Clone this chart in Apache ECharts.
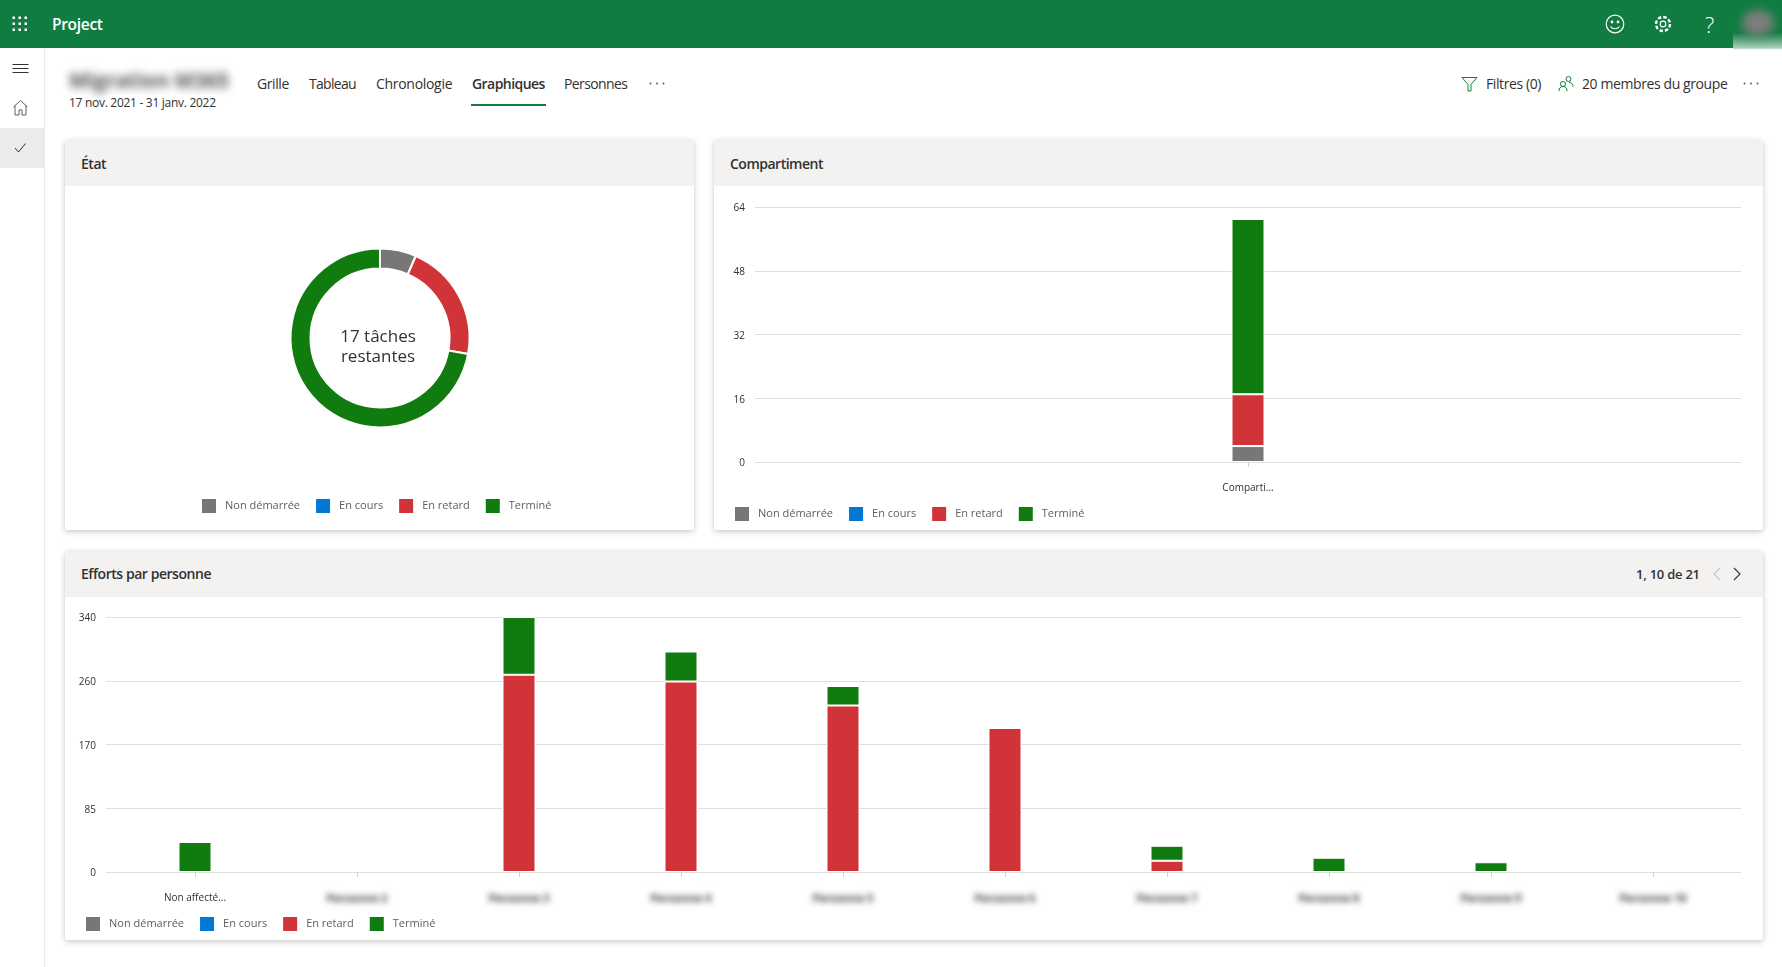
<!DOCTYPE html>
<html lang="fr">
<head>
<meta charset="utf-8">
<title>Graphiques</title>
<script src="https://cdn.jsdelivr.net/npm/echarts@6/dist/echarts.min.js"></script>
<style>
html,body{margin:0;padding:0;width:1782px;height:967px;background:#fff;overflow:hidden;font-family:"Open Sans",sans-serif;color:#323130}
.a{position:absolute;white-space:nowrap;line-height:1}
#top{position:absolute;left:0;top:0;width:1782px;height:48px;background:#107c41}
#side{position:absolute;left:0;top:48px;width:44px;height:919px;border-right:1px solid #edebe9}
#sel{position:absolute;left:0;top:128px;width:44px;height:40px;background:#edebe9}
.card{position:absolute;background:#fff;border-radius:2px;box-shadow:0 2px 6px rgba(0,0,0,.2),0 0 2px rgba(0,0,0,.08)}
.hd{position:absolute;left:0;top:0;right:0;height:46px;background:#f3f2f1;border-radius:2px 2px 0 0}
.ttl{position:absolute;left:16px;top:16px;font-size:14px;font-weight:600;line-height:16px;letter-spacing:-.45px;color:#323130}
.chart{position:absolute;left:0;top:46px}
.tab{font-size:14px;top:76px;letter-spacing:-.4px;line-height:16px}
svg{position:absolute;overflow:visible}
</style>
</head>
<body>
<div id="top"></div>
<div id="side"></div><div id="sel"></div>
<svg style="left:0;top:0" width="60" height="48" fill="#fff"><g id="dots"></g></svg>
<div class="a" style="left:52px;top:15px;font-size:15.500px;font-weight:600;color:#fff;line-height:18px;letter-spacing:-.3px">Project</div>

<svg style="left:0;top:0" width="44" height="170" fill="none" stroke="#323130" stroke-width="1">
<path d="M12.500 64.500h16M12.500 68.500h16M12.500 72.500h16"/>
<path d="M13.500 107l7-6.500 7 6.500M15 105.500v9.500h4v-5h3v5h4v-9.500" stroke="#605e5c"/>
<path d="M15 148l3.500 4 7-8.500" stroke="#323130"/>
</svg>

<svg style="left:1600px;top:9px" width="130" height="32" fill="none" stroke="#fff" stroke-width="1.200">
<circle cx="15" cy="15" r="8.800"/><circle cx="12" cy="13" r=".8" fill="#fff"/><circle cx="18" cy="13" r=".8" fill="#fff"/><path d="M10.500 17.500c2 3 7 3 9 0"/>
<circle cx="63" cy="15" r="2.800"/><circle cx="63" cy="15" r="7" stroke-dasharray="3.500 2" stroke-width="2.400"/>
</svg>
<div class="a" style="left:1705px;top:12px;font-size:22px;color:#fff;line-height:24px;font-weight:300">?</div>
<div class="a" style="left:1733px;top:6px;width:49px;height:44px;background:linear-gradient(180deg,#107c41 0,#107c41 60%,#a9cdb8 95%,#fff 100%)"></div>
<div class="a" style="left:1742px;top:10px;width:32px;height:26px;border-radius:50%;background:#7d7d7d;filter:blur(5px)"></div>

<div class="a" style="left:69px;top:68px;font-size:20.500px;font-weight:700;line-height:24px;color:#555;filter:blur(4px)">Migration M365</div>
<div class="a" style="left:69px;top:96px;font-size:12px;line-height:14px;letter-spacing:-.29px;color:#323130">17 nov. 2021 - 31 janv. 2022</div>

<div class="a tab" style="left:257px">Grille</div>
<div class="a tab" style="left:309px;letter-spacing:-.7px">Tableau</div>
<div class="a tab" style="left:376px;letter-spacing:-.3px">Chronologie</div>
<div class="a tab" style="left:472px;font-weight:600;letter-spacing:-.55px">Graphiques</div>
<div class="a tab" style="left:564px;letter-spacing:-.6px">Personnes</div>
<svg style="left:649px;top:82px" width="18" height="4" fill="#605e5c"><circle cx="1.500" cy="1.500" r="1"/><circle cx="8" cy="1.500" r="1"/><circle cx="14.500" cy="1.500" r="1"/></svg>
<div class="a" style="left:471px;top:104px;width:75px;height:2px;background:#107c41"></div>

<svg style="left:1461px;top:76px" width="18" height="17" fill="none" stroke="#107c41" stroke-width="1"><path d="M1 1.500h15l-6 7v6.500h-3v-6.500z"/></svg>
<div class="a tab" style="left:1486px">Filtres (0)</div>
<svg style="left:1558px;top:75px" width="16" height="17" fill="none" stroke="#107c41" stroke-width="1"><circle cx="10.500" cy="4" r="2.500"/><circle cx="5" cy="9" r="2.500"/><path d="M1 16c0-3 1.500-4.500 4-4.500s4 1.500 4 4.500M11 7.500c2.500 0 4 1.500 4 4"/></svg>
<div class="a tab" style="left:1582px">20 membres du groupe</div>
<svg style="left:1743px;top:82px" width="18" height="4" fill="#605e5c"><circle cx="1.500" cy="1.500" r="1"/><circle cx="8" cy="1.500" r="1"/><circle cx="14.500" cy="1.500" r="1"/></svg>

<div class="card" style="left:65px;top:140px;width:629px;height:390px">
  <div class="hd"></div><div class="ttl">État</div>
  <div class="chart" id="c1" style="width:629px;height:344px"></div>
</div>
<div class="card" style="left:714px;top:140px;width:1049px;height:390px">
  <div class="hd"></div><div class="ttl" style="letter-spacing:-.5px">Compartiment</div>
  <div class="chart" id="c2" style="width:1049px;height:344px"></div>
</div>
<div class="card" style="left:65px;top:551px;width:1698px;height:389px">
  <div class="hd"></div><div class="ttl" style="top:15px">Efforts par personne</div>
  <div class="a" style="left:1571px;top:15px;font-size:13px;line-height:16px;font-weight:600;letter-spacing:-.24px">1, 10 de 21</div>
  <svg style="left:1646px;top:16px" width="40" height="14" fill="none" stroke-width="1.100"><path d="M9 1L3 7l6 6" stroke="#c8c6c4"/><path d="M23 1l6 6-6 6" stroke="#323130"/></svg>
  <div class="chart" id="c3" style="width:1698px;height:343px"></div>
  <div class="a" id="veil" style="left:205px;top:333px;width:1485px;height:26px;backdrop-filter:blur(3px);-webkit-backdrop-filter:blur(3px)"></div>
</div>

<script>
const FONT = '"Open Sans",sans-serif';
const statusNames = ['Non démarrée', 'En cours', 'En retard', 'Terminé'];
const statusColors = ['#797775', '#0078d4', '#d13438', '#107c10'];

const stateValues = [4, 0, 13, 44];
const stateCaption = '17 tâches\nrestantes';

const bucketCategories = ['Comparti...'];
const bucketNotStarted = [4];
const bucketInProgress = [0];
const bucketLate = [13];
const bucketDone = [44];
const bucketTicks = [0, 16, 32, 48, 64];

const effortCategories = ['Non affecté...', 'Personne 2', 'Personne 3', 'Personne 4', 'Personne 5',
  'Personne 6', 'Personne 7', 'Personne 8', 'Personne 9', 'Personne 10'];
const effortNotStarted = [0, 0, 0, 0, 0, 0, 0, 0, 0, 0];
const effortInProgress = [0, 0, 0, 0, 0, 0, 0, 0, 0, 0];
const effortLate = [0, 0, 263, 254, 222, 192, 15, 0, 0, 0];
const effortDone = [40, 0, 77, 40, 26, 0, 20, 19, 13, 0];
const effortTicks = [0, 85, 170, 260, 340];

// waffle icon dots in the app bar
const dg = document.getElementById('dots');
[0, 1, 2].forEach(r => [0, 1, 2].forEach(c => {
  dg.innerHTML += `<rect x="${12.500 + c * 6}" y="${16.500 + r * 6}" width="2.500" height="2.500"/>`;
}));

const legend = (left, top) => ({
  left, top, padding: 0, icon: 'rect', itemWidth: 14, itemHeight: 14, itemGap: 16, selectedMode: false,
  data: statusNames,
  itemStyle: { borderWidth: 0 },
  textStyle: { fontFamily: FONT, fontSize: 11, color: '#605e5c', padding: [0, 0, 0, 4] }
});
const barSeries = (values, xi, yi) => values.map((v, i) => ({
  name: statusNames[i], type: 'bar', stack: 's', barWidth: 33, xAxisIndex: xi, yAxisIndex: yi,
  data: v.map(x => x || null), silent: true, animation: false,
  itemStyle: { color: statusColors[i], borderColor: '#fff', borderWidth: 1 }
}));
const valueLabels = {
  fontFamily: FONT, fontSize: 10, color: '#323130', margin: 10,
  rich: { t: { fontFamily: FONT, fontSize: 10, color: '#323130', padding: [3, 0, 0, 0] } }
};
const gridLine = { show: true, lineStyle: { color: '#e1dfdd', width: 1 } };
const catAxis = (data, gridIndex, formatter) => ({
  type: 'category', gridIndex, data, boundaryGap: true,
  axisLine: { show: false },
  axisTick: { show: true, alignWithLabel: true, length: 5, lineStyle: { color: '#d2d0ce' } },
  axisLabel: {
    fontFamily: FONT, fontSize: 10, color: '#323130', margin: 21, interval: 0, formatter,
    rich: { h: { fontFamily: FONT, fontSize: 11, fontWeight: 700, color: '#323130' } }
  }
});

const c1 = echarts.init(document.getElementById('c1'));
c1.setOption({
  animation: false,
  color: statusColors,
  legend: legend(137, 313),
  title: {
    text: stateCaption, left: 308, top: 156.500, textAlign: 'center', textVerticalAlign: 'middle',
    textStyle: { fontFamily: FONT, fontSize: 17, fontWeight: 400, lineHeight: 20, color: '#323130' }
  },
  series: [{
    type: 'pie', center: [315, 152], radius: [69.500, 89.500], startAngle: 90, clockwise: true, silent: true,
    label: { show: false }, labelLine: { show: false },
    itemStyle: { borderColor: '#fff', borderWidth: 2 },
    data: statusNames.map((name, i) => ({ name, value: stateValues[i] }))
  }]
});

const c2 = echarts.init(document.getElementById('c2'));
c2.setOption({
  animation: false,
  color: statusColors,
  legend: legend(21, 321),
  grid: { left: 41, right: 22, top: 21, height: 255 },
  xAxis: catAxis(bucketCategories, 0),
  yAxis: {
    type: 'value', min: 0, max: 64, interval: 16, axisLine: { show: false }, axisTick: { show: false },
    axisLabel: Object.assign({ formatter: v => `{t|${bucketTicks[v / 16]}}` }, valueLabels), splitLine: gridLine
  },
  series: barSeries([bucketNotStarted, bucketInProgress, bucketLate, bucketDone], 0, 0)
});

const c3 = echarts.init(document.getElementById('c3'));
const yCommon = { type: 'value', min: 0, max: 340, interval: 85 };
c3.setOption({
  animation: false,
  color: statusColors,
  legend: legend(21, 320),
  grid: [
    { left: 41, right: 22, top: 20, height: 255 },
    { left: 49, width: 1620, top: 20, height: 255 }
  ],
  xAxis: [
    { type: 'category', gridIndex: 0, data: [''], show: false },
    catAxis(effortCategories, 1, (v, i) => i ? `{h|${v}}` : v)
  ],
  yAxis: [
    Object.assign({ gridIndex: 0, axisLine: { show: false }, axisTick: { show: false },
      axisLabel: Object.assign({ formatter: v => `{t|${effortTicks[v / 85]}}` }, valueLabels), splitLine: gridLine }, yCommon),
    Object.assign({ gridIndex: 1, show: false, splitLine: { show: false } }, yCommon)
  ],
  series: barSeries([effortNotStarted, effortInProgress, effortLate, effortDone], 1, 1)
});
</script>
</body>
</html>
